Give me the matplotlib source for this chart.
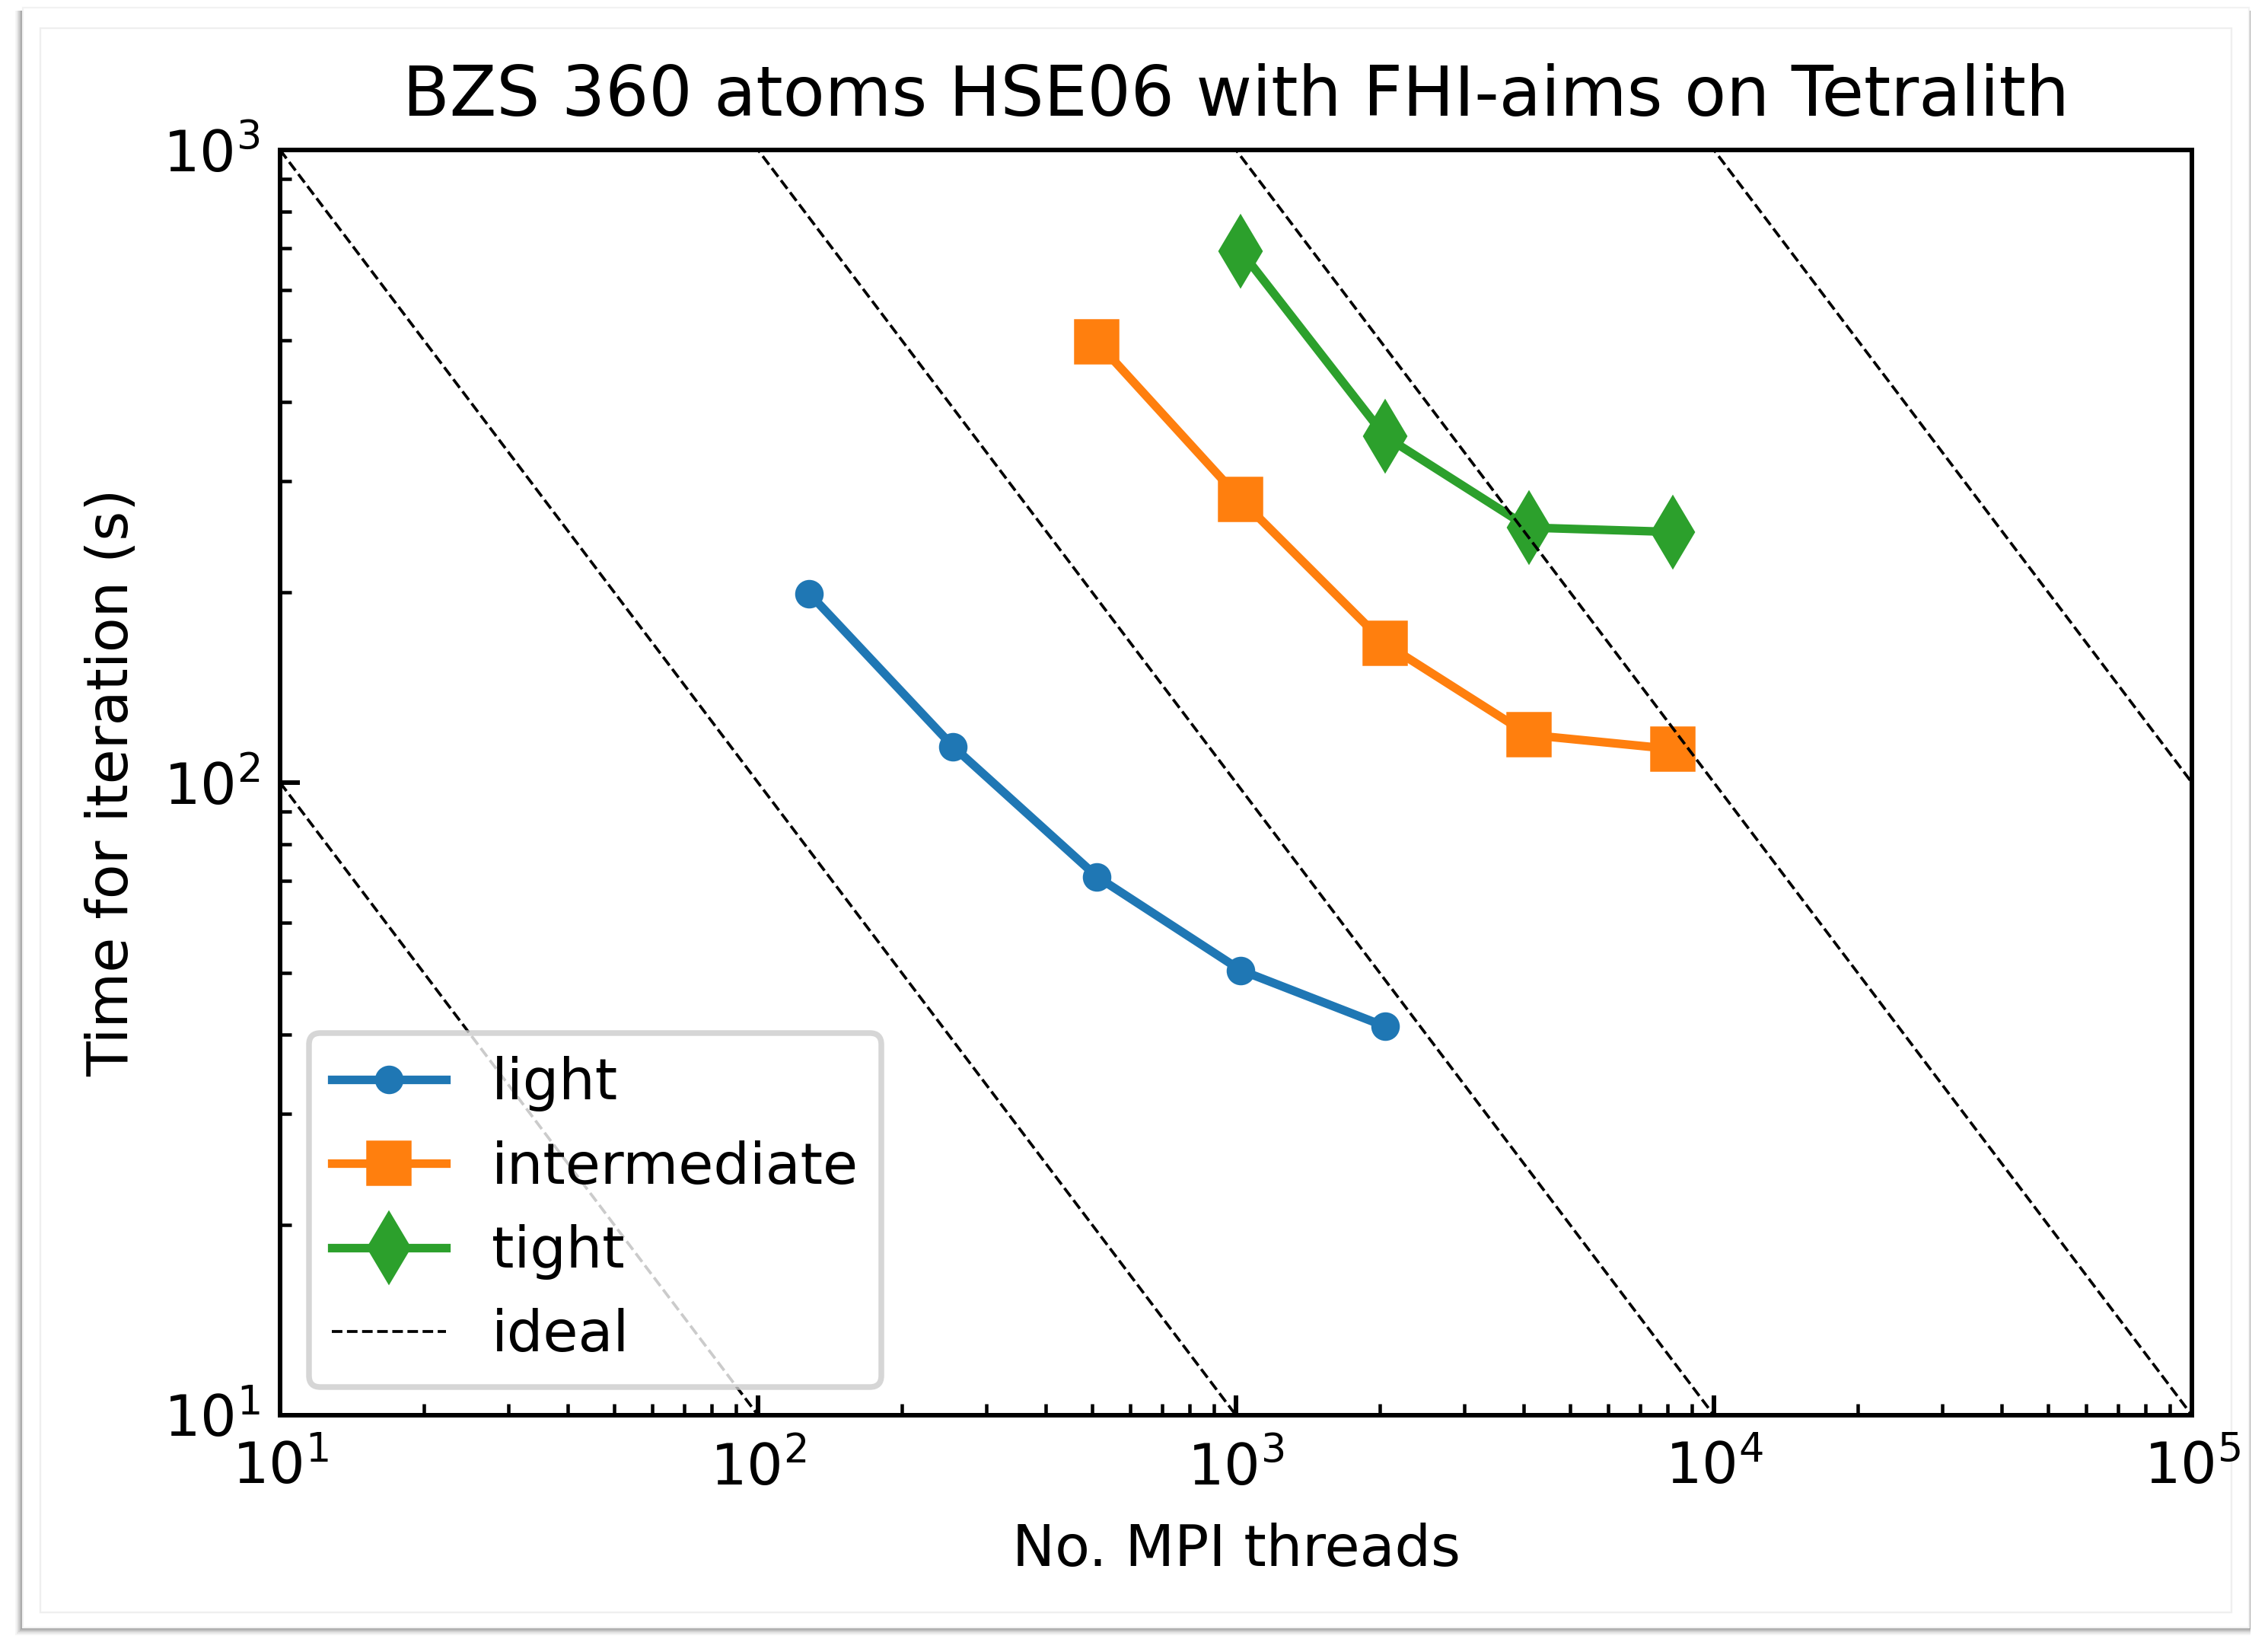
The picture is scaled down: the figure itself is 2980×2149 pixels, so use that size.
import matplotlib.pyplot as plt
from matplotlib.patches import Rectangle
import numpy as np

# data
light_threads = [128, 256, 512, 1024, 2048]
light_time = [199, 114, 71, 50.5, 41.2]

inter_threads = [512, 1024, 2048, 4096, 8192]
inter_time = [497, 280, 166, 119, 113]

tight_threads = [1024, 2048, 4096, 8192]
tight_time = [692, 353, 253, 249]

# constants of the ideal-scaling lines  t = C / n
ideal_consts = [1e3, 1e4, 1e5, 1e6, 1e7]

W, H, DPI = 2980, 2149, 540
fig = plt.figure(figsize=(W / DPI, H / DPI), dpi=DPI)
fig.patch.set_facecolor('white')

# screenshot-like frame with a soft shadow (mostly left and bottom)
def px(x0, y0, x1, y1):
    # pixel box (top-left origin) -> figure fraction rectangle args
    return (x0 / W, 1 - y1 / H), (x1 - x0) / W, (y1 - y0) / H

for i, a in enumerate([0.04, 0.06, 0.09, 0.12, 0.16]):
    d = 8 - 2 * i
    xy, w, h = px(30 - 2 - d, 14, 2955 + 2, 2138 + 2 + d)
    fig.add_artist(Rectangle(xy, w, h, transform=fig.transFigure,
                             facecolor='black', edgecolor='none', alpha=a, zorder=-5))
xy, w, h = px(30, 10, 2955, 2138)
fig.add_artist(Rectangle(xy, w, h, transform=fig.transFigure,
                         facecolor='white', edgecolor='#f2f2f2', linewidth=0.3, zorder=-4))
xy, w, h = px(53, 37, 2932, 2118)
fig.add_artist(Rectangle(xy, w, h, transform=fig.transFigure,
                         facecolor='none', edgecolor='#efefef', linewidth=0.3, zorder=-3))

ax = fig.add_axes([368 / W, 1 - 1859 / H, (2880 - 368) / W, (1859 - 197) / H])

ax.plot(light_threads, light_time, '-o', color='C0', lw=1.5, ms=4, label='light')
ax.plot(inter_threads, inter_time, '-s', color='C1', lw=1.5, ms=7, label='intermediate')
ax.plot(tight_threads, tight_time, '-d', color='C2', lw=1.5, ms=8, label='tight')

xx = np.array([10, 1e5])
for i, c in enumerate(ideal_consts):
    ax.plot(xx, c / xx, 'k--', lw=0.5, label='ideal' if i == 0 else None)

ax.set_xscale('log')
ax.set_yscale('log')
ax.set_xlim(10, 1e5)
ax.set_ylim(10, 1000)
ax.tick_params(which='both', direction='in')
ax.tick_params(axis='x', which='major', pad=4.5)
ax.set_xlabel('No. MPI threads', labelpad=4.5)
ax.set_ylabel('Time for iteration (s)')
ax.set_title('BZS 360 atoms HSE06 with FHI-aims on Tetralith')
ax.legend(loc='lower left')

fig.savefig('out.png', dpi=DPI)
